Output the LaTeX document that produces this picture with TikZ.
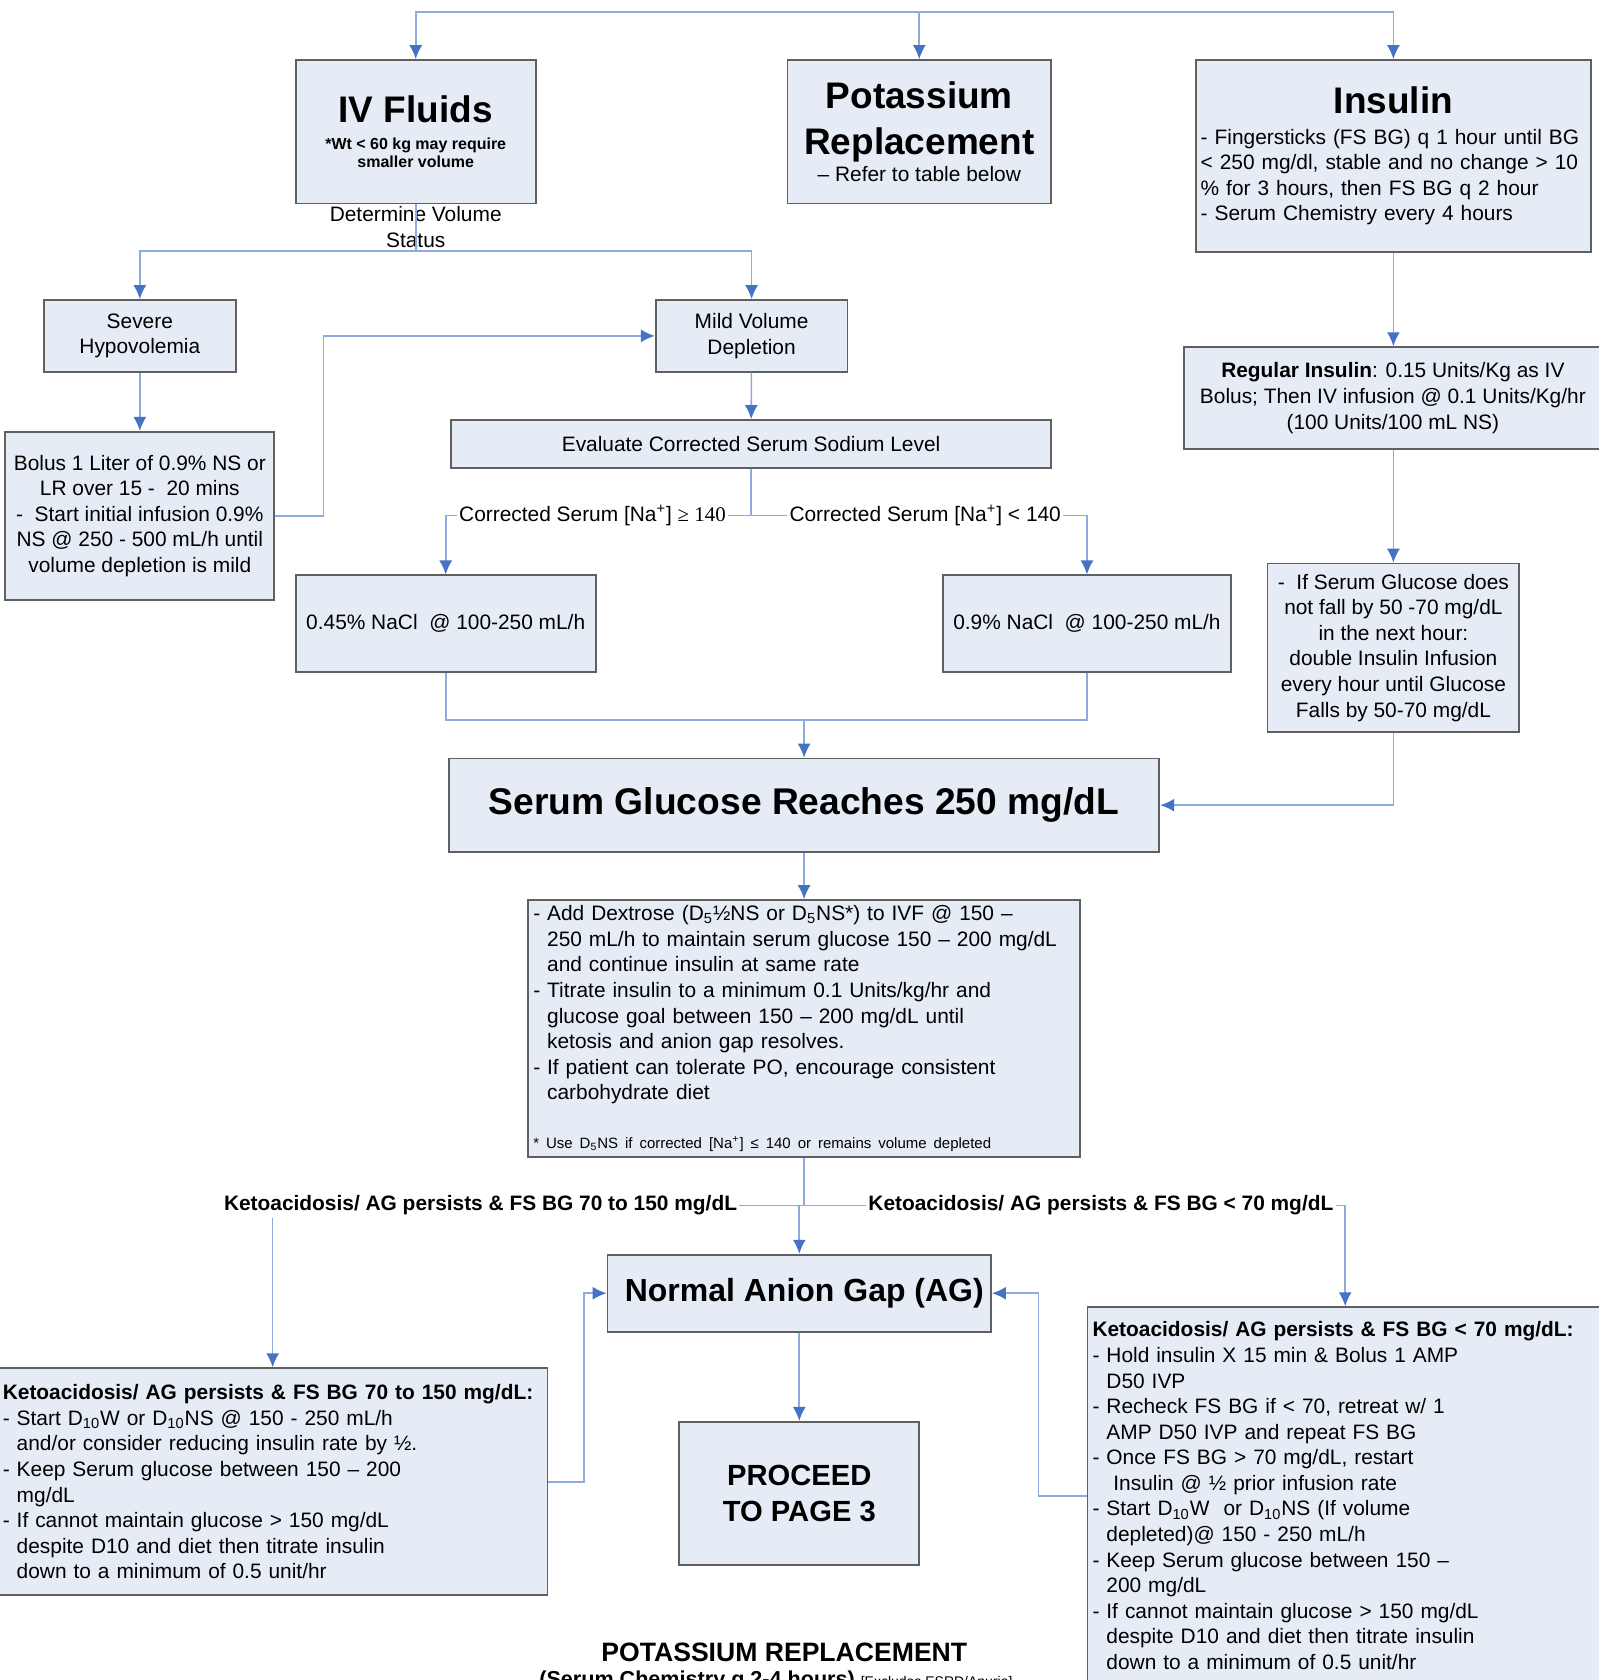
\documentclass[tikz,border=0pt]{standalone}
\usepackage{fontspec}
\setmainfont{Liberation Sans}
\newfontfamily\serifnum{Liberation Serif}
\usepackage{tikz}
\usetikzlibrary{arrows.meta}
\definecolor{boxfill}{HTML}{E6ECF6}
\definecolor{boxline}{HTML}{606060}
\definecolor{linkblue}{HTML}{8FAADC}
\definecolor{tipblue}{HTML}{4472C4}
\newcommand{\pxu}{0.536pt}
\newcommand{\bodytext}{\fontsize{10.45}{12.8}\selectfont}
\newcommand{\headtext}{\fontsize{18.5}{22.5}\selectfont\bfseries}
\newcommand{\notetext}{\fontsize{8}{9.1}\selectfont}
\tikzset{
  box/.style={draw=boxline, fill=boxfill, line width=0.9pt, inner sep=2.5pt, align=center, font=\bodytext},
  wh/.style 2 args={minimum width=#1*\pxu, minimum height=#2*\pxu},
  link/.style={draw=linkblue, line width=0.8pt},
  tag/.style={inner sep=1pt, font=\bodytext}}

\begin{document}
\begin{tikzpicture}[x=\pxu, y=-\pxu, >={Latex[length=7pt,width=6.5pt,color=tipblue]}]
	%\draw [help lines, step=100] (0,0) grid (1492,1568);
	\path [use as bounding box, fill=white] (0,0) rectangle (1492,1568);

	\node (iv) [box, wh={224}{134}] at (388,123)
	  {{\headtext IV Fluids}\\[1pt]{\notetext\bfseries *Wt < 60 kg may require}\\[-3.7pt]{\notetext\bfseries smaller volume}};
	\node (pot) [box, wh={246}{134}] at (858,123)
	  {{\headtext Potassium}\\[8pt]{\headtext Replacement}\\[0.8pt]– Refer to table below};
	\node (ins) [box, wh={369}{179}, align=left, text width=192.8pt] at (1300.5,145.5)
	  {\makebox[192.8pt]{\headtext Insulin}\\[2.5pt]
	   - Fingersticks (FS BG) q 1 hour until BG\\
	   < 250 mg/dl, stable and no change > 10\\
	   \% for 3 hours, then FS BG q 2 hour\\
	   - Serum Chemistry every 4 hours};
	\node (detvol) [tag, align=center] at (388,212) {Determine Volume\\Status};

	\node (sev) [box, wh={179}{67}] at (130.5,313.5) {Severe\\Hypovolemia};
	\node (mild) [box, wh={179}{67}] at (701.5,313.5) {Mild Volume\\Depletion};
	\node (bolus) [box, wh={251}{157}] at (130.5,481.5)
	  {Bolus 1 Liter of 0.9\% NS or\\LR over 15 -\ \ 20 mins\\-\ \ Start initial infusion 0.9\%\\NS @ 250 - 500 mL/h until\\volume depletion is mild};
	\node (ev) [box, wh={560}{45}] at (701,414.5) {Evaluate Corrected Serum Sodium Level};
	\node (ge) [tag] at (553,481) {Corrected Serum [Na\textsuperscript{+}] {\serifnum ≥ 140}};
	\node (lt) [tag] at (863.5,481) {Corrected Serum [Na\textsuperscript{+}] < 140};
	\node (n45) [box, wh={280}{90}] at (416,582) {0.45\% NaCl\ \ @ 100-250 mL/h};
	\node (n9) [box, wh={269}{90}] at (1014.5,582) {0.9\% NaCl\ \ @ 100-250 mL/h};

	\node (reg) [box, wh={390}{95}] at (1300,371.5)
	  {\textbf{Regular Insulin}: 0.15 Units/Kg as IV\\Bolus; Then IV infusion @ 0.1 Units/Kg/hr\\(100 Units/100 mL NS)};
	\node (ifs) [box, wh={235}{157}] at (1300.5,604.5)
	  {-\ \ If Serum Glucose does\\not fall by 50 -70 mg/dL\\in the next hour:\\double Insulin Infusion\\every hour until Glucose\\Falls by 50-70 mg/dL};

	\node (sg) [box, wh={663}{87}, font=\fontsize{18.6}{22}\selectfont\bfseries] at (750.5,751.5) {Serum Glucose Reaches 250 mg/dL};
	\node (dex) [box, wh={515}{240}, align=left, text width=271pt] at (750.5,960)
	  {- Add Dextrose (D\textsubscript{5}½NS or D\textsubscript{5}NS*) to IVF @ 150 –\\
	   \phantom{- }250 mL/h to maintain serum glucose 150 – 200 mg/dL\\
	   \phantom{- }and continue insulin at same rate\\
	   - Titrate insulin to a minimum 0.1 Units/kg/hr and\\
	   \phantom{- }glucose goal between 150 – 200 mg/dL until\\
	   \phantom{- }ketosis and anion gap resolves.\\
	   - If patient can tolerate PO, encourage consistent\\
	   \phantom{- }carbohydrate diet\\[11.6pt]
	   {\fontsize{7.5}{9}\selectfont * Use D\textsubscript{5}NS if corrected [Na\textsuperscript{+}] ≤ 140 or remains volume depleted}\hspace*{\fill}};

	\node (kl) [tag, font=\bodytext\bfseries] at (448.5,1125) {Ketoacidosis/ AG persists \& FS BG 70 to 150 mg/dL};
	\node (kr) [tag, font=\bodytext\bfseries] at (1027.5,1125) {Ketoacidosis/ AG persists \& FS BG < 70 mg/dL};
	\node (ag) [box, wh={358}{72}, font=\fontsize{16}{19}\selectfont\bfseries] at (746,1207) {\hspace{5pt}Normal Anion Gap (AG)};
	\node (proc) [box, wh={224}{134}, font=\fontsize{14.6}{17.7}\selectfont\bfseries] at (746,1394) {PROCEED\\TO PAGE 3};
	\node (lb) [box, wh={513}{212}, align=left, text width=270pt] at (254.5,1383)
	  {\textbf{Ketoacidosis/ AG persists \& FS BG 70 to 150 mg/dL:}\\
	   - Start D\textsubscript{10}W or D\textsubscript{10}NS @ 150 - 250 mL/h\\
	   \phantom{- }and/or consider reducing insulin rate by ½.\\
	   - Keep Serum glucose between 150 – 200\\
	   \phantom{- }mg/dL\\
	   - If cannot maintain glucose > 150 mg/dL\\
	   \phantom{- }despite D10 and diet then titrate insulin\\
	   \phantom{- }down to a minimum of 0.5 unit/hr\hspace*{\fill}};
	\node (rb) [box, wh={481}{352}, align=left, text width=252.8pt] at (1255.5,1396)
	  {\textbf{Ketoacidosis/ AG persists \& FS BG < 70 mg/dL:}\\
	   - Hold insulin X 15 min \& Bolus 1 AMP\\
	   \phantom{- }D50 IVP\\
	   - Recheck FS BG if < 70, retreat w/ 1\\
	   \phantom{- }AMP D50 IVP and repeat FS BG\\
	   - Once FS BG > 70 mg/dL, restart\\
	   \phantom{- }\ Insulin @ ½ prior infusion rate\\
	   - Start D\textsubscript{10}W\ \ or D\textsubscript{10}NS (If volume\\
	   \phantom{- }depleted)@ 150 - 250 mL/h\\
	   - Keep Serum glucose between 150 –\\
	   \phantom{- }200 mg/dL\\
	   - If cannot maintain glucose > 150 mg/dL\\
	   \phantom{- }despite D10 and diet then titrate insulin\\
	   \phantom{- }down to a minimum of 0.5 unit/hr\hspace*{\fill}};

	\node (ktitle) [anchor=base, font=\fontsize{13.3}{16}\selectfont\bfseries] at (732,1551) {POTASSIUM REPLACEMENT};
	\node (ksub) [anchor=base west, inner sep=0pt, font=\fontsize{10.8}{13}\selectfont\bfseries] at (503,1574)
	  {(Serum Chemistry q 2-4 hours) {\fontsize{7}{8}\selectfont\mdseries [Excludes ESRD/Anuria]}};

	% connectors
	\coordinate (top) at (706,11);
	\draw [link, ->] (top) -| (iv.north);
	\draw [link, ->] (top) -| (pot.north);
	\draw [link, ->] (top) -| (ins.north);
	\coordinate (split) at (388,234);
	\draw [link] (iv.south) -- (split);
	\draw [link, ->] (split) -| (sev.north);
	\draw [link, ->] (split) -| (mild.north);
	\draw [link, ->] (sev) -- (bolus);
	\draw [link, ->] (bolus.east) -- ++(45,0) |- (mild.west);
	\draw [link, ->] (mild) -- (ev);
	\draw [link] (ev.south) |- (ge.east);
	\draw [link] (ev.south) |- (lt.west);
	\draw [link, ->] (ge.west) -| (n45.north);
	\draw [link, ->] (lt.east) -| (n9.north);
	\coordinate (merge) at (750.5,672);
	\draw [link] (n45.south) |- (merge) -| (n9.south);
	\draw [link, ->] (merge) -- (sg.north);
	\draw [link, ->] (ins.south) -- (ins.south |- reg.north);
	\draw [link, ->] (reg.south -| ifs.north) -- (ifs.north);
	\draw [link, ->] (ifs.south) |- (sg.east);
	\draw [link, ->] (sg) -- (dex);
	\coordinate (fork) at (750.5,1125);
	\draw [link] (dex.south) -- (fork);
	\draw [link] (kl.east) -- (kr.west);
	\draw [link, ->] (fork -| ag.north) -- (ag.north);
	\draw [link, ->] (kl.south -| lb.north) -- (lb.north);
	\draw [link, ->] (kr.east) -| (rb.north);
	\draw [link, ->] (lb.east) -- ++(33,0) |- (ag.west);
	\draw [link, ->] (rb.west) -- ++(-45,0) |- (ag.east);
	\draw [link, ->] (ag) -- (proc);
\end{tikzpicture}
\end{document}
